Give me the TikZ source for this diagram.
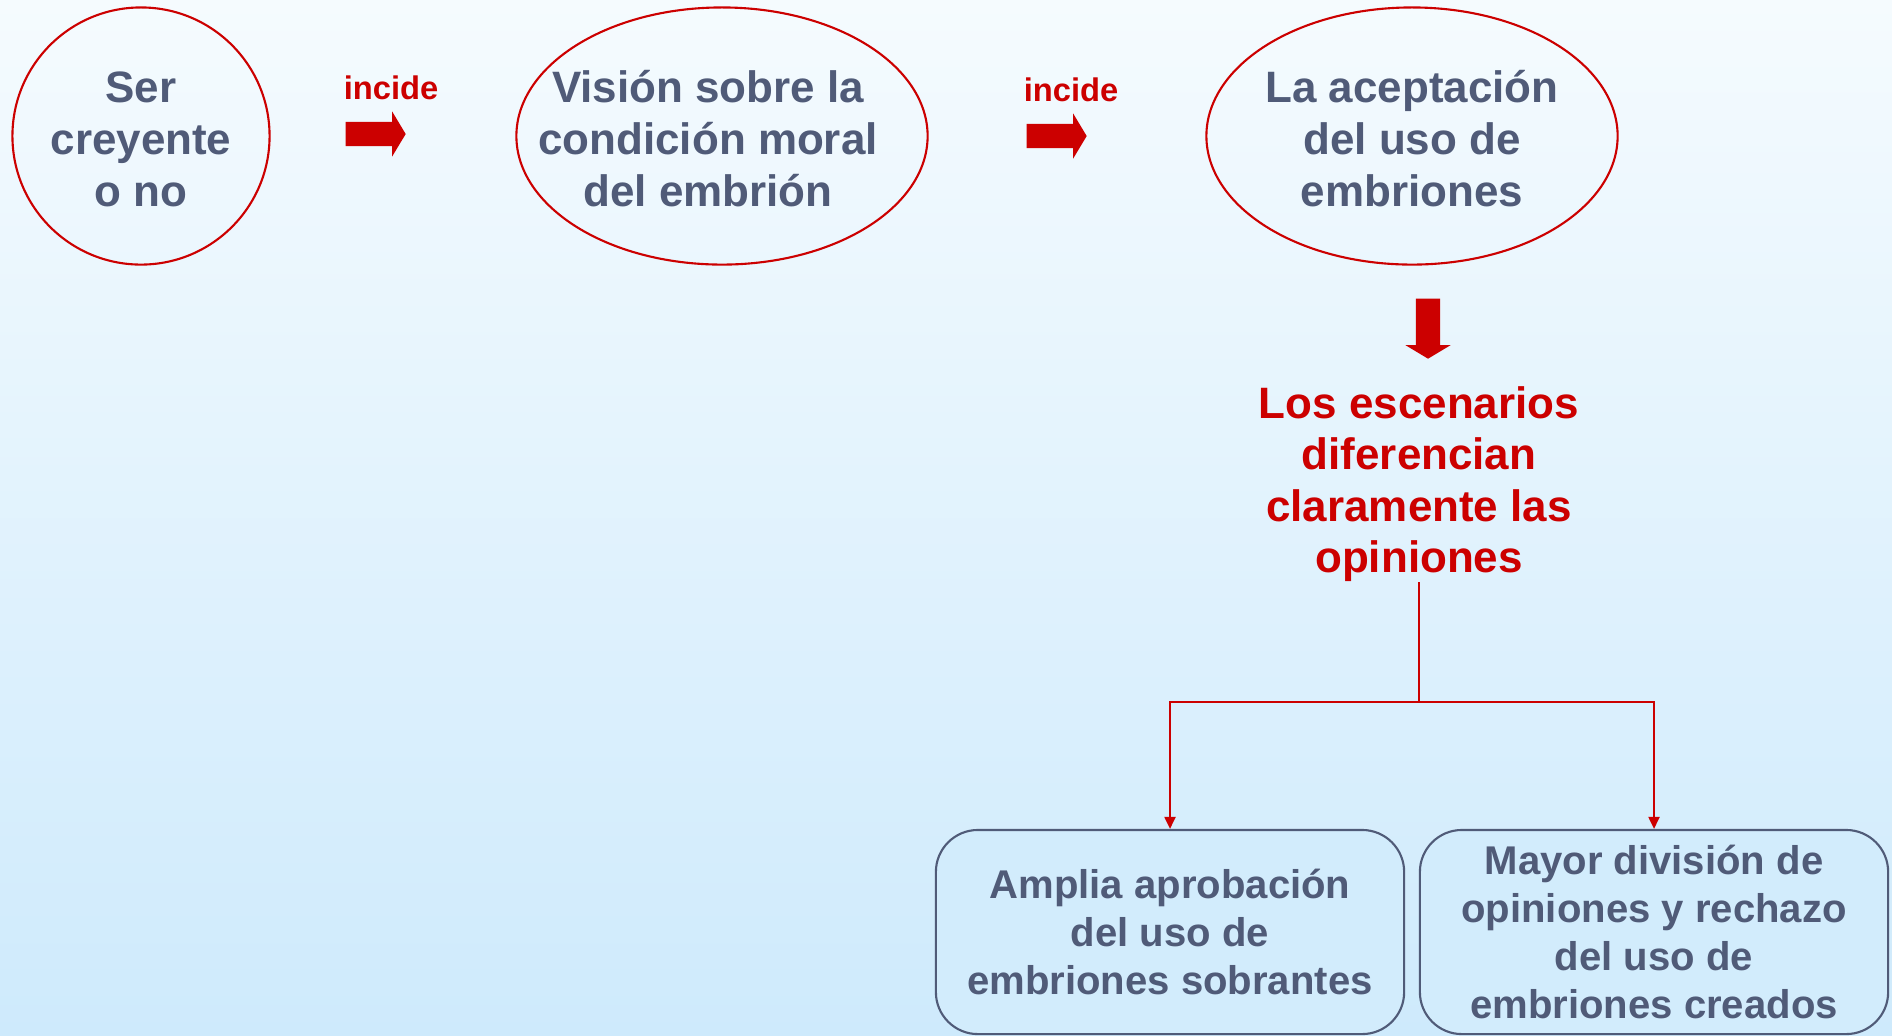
\documentclass[tikz,border=0pt]{standalone}
\usepackage{fontspec}
\setmainfont{Liberation Sans}
\usepackage{xcolor}
\usepackage{tikz}
\usetikzlibrary{arrows.meta,positioning,shapes.geometric,shapes.arrows}
\definecolor{txtblue}{RGB}{80,91,120}
\definecolor{darkred}{RGB}{204,0,0}
\definecolor{bgtop}{RGB}{245,251,254}
\definecolor{bgbot}{RGB}{206,234,252}
\definecolor{boxfill}{RGB}{210,236,252}
% text that may run over the outline of its bubble
\newcommand{\inbubble}[2][0pt]{\makebox[0pt]{\hspace*{#1}\raisebox{-2.4pt}[\height][\depth]{\begin{tabular}{@{}c@{}}#2\end{tabular}}}}

\begin{document}
\begin{tikzpicture}[
x=0.01cm, y=-0.01cm,
node distance=2mm and 4mm,
bubble/.style={draw=darkred, line width=0.6pt, ellipse, text=txtblue, font=\bfseries\fontsize{12.5}{14.8}\selectfont, inner sep=0pt},
box/.style={draw=txtblue, line width=0.6pt, rounded corners=4.2mm, fill=boxfill, align=center, text=txtblue, font=\bfseries\fontsize{11.4}{13.7}\selectfont, minimum width=4.68cm, minimum height=2.04cm},
fatarr/.style={single arrow, fill=darkred, inner xsep=0pt, inner ysep=0.115cm, minimum height=0.6cm, single arrow head extend=0.105cm, single arrow tip angle=118},
verb/.style={text=darkred, font=\bfseries\fontsize{9.3}{11}\selectfont, inner sep=0pt},
redtext/.style={text=darkred, align=center, font=\bfseries\fontsize{12.5}{14.6}\selectfont, inner sep=0pt},
link/.style={draw=darkred, line width=0.6pt},
arr/.style={link, -{Triangle[length=1.2mm, width=1.1mm]}}
]
\useasboundingbox (0,0) rectangle (1892,1035);
\shade[top color=bgtop, bottom color=bgbot] (0,0) rectangle (1892,1035);

\node[bubble, minimum width=2.57cm, minimum height=2.57cm] (ser) at (141,136) {\inbubble{Ser\\creyente\\o no}};
\node[bubble, minimum width=4.11cm, minimum height=2.57cm] (vision) at (722,136) {\inbubble[-0.28cm]{Visión sobre la\\condición moral\\del embrión}};
\node[bubble, minimum width=4.11cm, minimum height=2.57cm] (acept) at (1412,136) {\inbubble{La aceptación\\del uso de\\embriones}};

\node[fatarr] (a1) at (372,134) {};
\node[verb] (inc1) at (391,88) {incide};
\node[fatarr] (a2) at (1053,136) {};
\node[verb] (inc2) at (1071,90) {incide};
\node[fatarr, shape border rotate=270, inner xsep=0.115cm, inner ysep=0pt] (a3) at (1428,325) {};

\node[redtext] (esc) at (1419,484) {Los escenarios\\diferencian\\claramente las\\opiniones};
\coordinate (fork) at (1419,702);

\node[box] (amplia) at (1170,932) {Amplia aprobación\\del uso de\\embriones sobrantes};
\node[box] (mayor) at (1654,932) {Mayor división de\\opiniones y rechazo\\del uso de\\embriones creados};

\draw[link] (esc.south) -- (fork);
\draw[arr] (fork) -| (amplia.north);
\draw[arr] (fork) -| (mayor.north);
\end{tikzpicture}
\end{document}
